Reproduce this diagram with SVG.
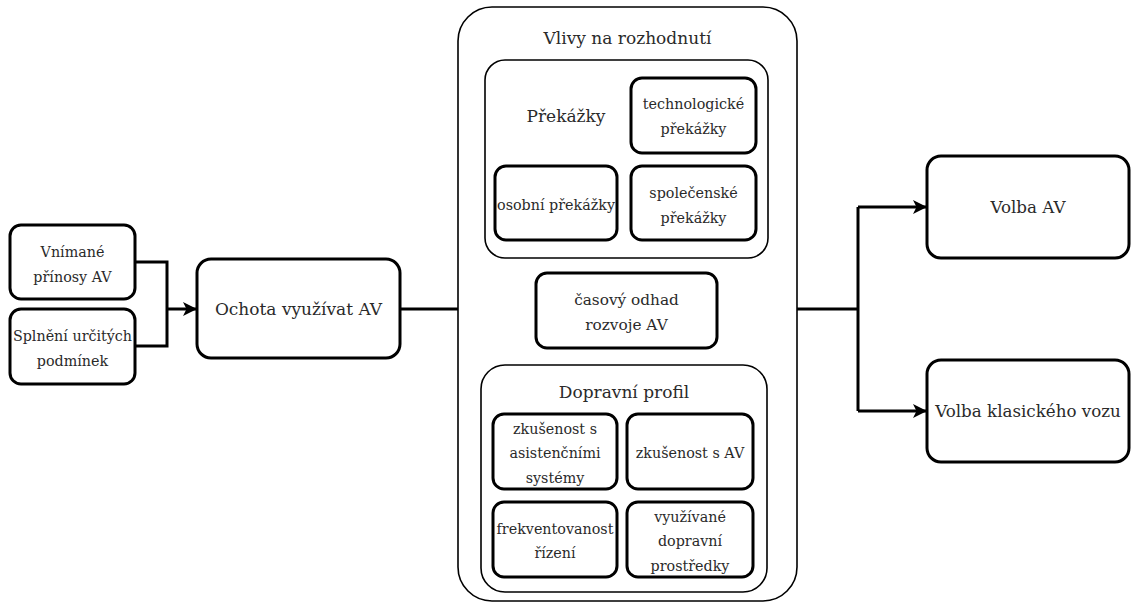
<svg xmlns="http://www.w3.org/2000/svg" width="1131" height="602" viewBox="0 0 1131 602">
  <defs>
    <marker id="arrow" viewBox="0 0 14 14" refX="13" refY="7" markerWidth="14" markerHeight="14" markerUnits="userSpaceOnUse" orient="auto">
      <path d="M0,0 L14,7 L0,14 L3.5,7 Z" fill="#000"/>
    </marker>
  </defs>
  <style>
    .node { fill: #fff; stroke: #000; stroke-width: 3; }
    .box { fill: #fff; stroke: #000; stroke-width: 1.6; }
    .edge { fill: none; stroke: #000; stroke-width: 3; }
    text { font-family: "DejaVu Serif", "Liberation Serif", serif; fill: #2a2a2a; text-anchor: middle; }
    .s { font-size: 14.3px; }
    .m { font-size: 15.3px; }
    .o { font-size: 16.7px; }
    .l { font-size: 17px; }
  </style>

  <rect width="1131" height="602" fill="#fff"/>

  <!-- connectors -->
  <g id="connectors">
    <polyline class="edge" points="135,262 167,262 167,346 135,346"/>
    <line class="edge" x1="167" y1="309" x2="196" y2="309" marker-end="url(#arrow)"/>
    <line class="edge" x1="400" y1="309" x2="458" y2="309"/>
    <line class="edge" x1="797" y1="309" x2="858" y2="309"/>
    <polyline class="edge" points="858,207 858,411"/>
    <line class="edge" x1="858" y1="207" x2="926" y2="207" marker-end="url(#arrow)"/>
    <line class="edge" x1="858" y1="411" x2="926" y2="411" marker-end="url(#arrow)"/>
  </g>

  <!-- inputs -->
  <g id="vnimane-prinosy">
    <rect class="node" x="10" y="225" width="125" height="74" rx="11"/>
    <text class="s" x="72.5" y="257">Vnímané</text>
    <text class="s" x="72.5" y="282">přínosy AV</text>
  </g>
  <g id="splneni-podminek">
    <rect class="node" x="10" y="309" width="125" height="75" rx="11"/>
    <text class="s" x="72.5" y="341">Splnění určitých</text>
    <text class="s" x="72.5" y="366">podmínek</text>
  </g>
  <g id="ochota">
    <rect class="node" x="197" y="259" width="203" height="99" rx="14"/>
    <text class="l" x="298.5" y="315">Ochota využívat AV</text>
  </g>

  <!-- decision influences -->
  <g id="vlivy">
    <rect class="box" x="458" y="7" width="339" height="594" rx="34"/>
    <text class="l" x="627.5" y="44">Vlivy na rozhodnutí</text>
  </g>
  <g id="prekazky">
    <rect class="box" x="485" y="60" width="283" height="198" rx="20"/>
    <text class="l" x="566" y="122">Překážky</text>
  </g>
  <g id="technologicke">
    <rect class="node" x="631" y="78" width="125" height="75" rx="11"/>
    <text class="s" x="693.5" y="109">technologické</text>
    <text class="s" x="693.5" y="134">překážky</text>
  </g>
  <g id="osobni">
    <rect class="node" x="495" y="166" width="122" height="74" rx="11"/>
    <text class="s" x="556" y="210">osobní překážky</text>
  </g>
  <g id="spolecenske">
    <rect class="node" x="631" y="166" width="125" height="74" rx="11"/>
    <text class="s" x="693.5" y="198">společenské</text>
    <text class="s" x="693.5" y="223">překážky</text>
  </g>
  <g id="casovy-odhad">
    <rect class="node" x="536" y="273" width="181" height="75" rx="11"/>
    <text class="m" x="626.5" y="305">časový odhad</text>
    <text class="m" x="626.5" y="330">rozvoje AV</text>
  </g>
  <g id="dopravni-profil">
    <rect class="box" x="481" y="365" width="286" height="227" rx="24"/>
    <text class="l" x="624" y="398">Dopravní profil</text>
  </g>
  <g id="asistencni">
    <rect class="node" x="493" y="414" width="124" height="75" rx="11"/>
    <text class="s" x="555" y="434">zkušenost s</text>
    <text class="s" x="555" y="458">asistenčními</text>
    <text class="s" x="555" y="483">systémy</text>
  </g>
  <g id="zkusenost-av">
    <rect class="node" x="627" y="414" width="126" height="75" rx="11"/>
    <text class="s" x="690" y="458">zkušenost s AV</text>
  </g>
  <g id="frekventovanost">
    <rect class="node" x="493" y="502" width="124" height="75" rx="11"/>
    <text class="s" x="555" y="534">frekventovanost</text>
    <text class="s" x="555" y="558">řízení</text>
  </g>
  <g id="dopravni-prostredky">
    <rect class="node" x="627" y="502" width="126" height="75" rx="11"/>
    <text class="s" x="690" y="522">využívané</text>
    <text class="s" x="690" y="546">dopravní</text>
    <text class="s" x="690" y="571">prostředky</text>
  </g>

  <!-- outcomes -->
  <g id="volba-av">
    <rect class="node" x="927" y="156" width="202" height="102" rx="14"/>
    <text class="o" x="1028" y="213">Volba AV</text>
  </g>
  <g id="volba-klasicky">
    <rect class="node" x="927" y="360" width="202" height="102" rx="14"/>
    <text class="o" x="1028" y="417">Volba klasického vozu</text>
  </g>
</svg>
